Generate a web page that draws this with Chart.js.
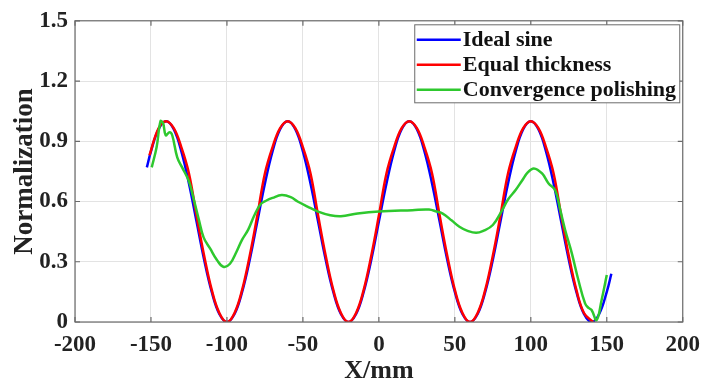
<!DOCTYPE html>
<html>
<head>
<meta charset="utf-8">
<script src="https://cdn.jsdelivr.net/npm/chart.js@4"></script>
<style>
    html, body { margin: 0; padding: 0; background: #fff; }
    #wrap { width: 709px; height: 387px; }
</style>
</head>
<body>
<div id="wrap"><canvas id="profileChart" width="709" height="387"></canvas></div>
<script>
// Ideal sine
const sineX = [-152.7, -150, -145, -140, -135, -130, -125, -120, -115, -110, -105,
    -100, -95, -90, -85, -80, -75, -70, -65,
    -60, -55, -50, -45, -40, -35, -30, -25,
    -20, -15, -10, -5, 0, 5, 10, 15,
    20, 25, 30, 35, 40, 45, 50, 55,
    60, 65, 70, 75, 80, 85, 90, 95,
    100, 105, 110, 115, 120, 125, 130, 135,
    140, 145, 150, 153];
const sineY = [0.77, 0.85, 0.96, 1.00, 0.96, 0.85, 0.69, 0.50, 0.31, 0.15, 0.04,
    0.00, 0.04, 0.15, 0.31, 0.50, 0.69, 0.85, 0.96,
    1.00, 0.96, 0.85, 0.69, 0.50, 0.31, 0.15, 0.04,
    0.00, 0.04, 0.15, 0.31, 0.50, 0.69, 0.85, 0.96,
    1.00, 0.96, 0.85, 0.69, 0.50, 0.31, 0.15, 0.04,
    0.00, 0.04, 0.15, 0.31, 0.50, 0.69, 0.85, 0.96,
    1.00, 0.96, 0.85, 0.69, 0.50, 0.31, 0.15, 0.04,
    0.00, 0.04, 0.15, 0.24];

// Equal thickness
const equalX = [-151, -145, -140, -135, -130, -125, -120, -115, -110, -105,
    -100, -95, -90, -85, -80, -75, -70, -65,
    -60, -55, -50, -45, -40, -35, -30, -25,
    -20, -15, -10, -5, 0, 5, 10, 15,
    20, 25, 30, 35, 40, 45, 50, 55,
    60, 65, 70, 75, 80, 85, 90, 95,
    100, 105, 110, 115, 120, 125, 130, 135,
    141];
const equalY = [0.83, 0.965, 1.00, 0.965, 0.87, 0.74, 0.53, 0.33, 0.16, 0.045,
    0.00, 0.045, 0.16, 0.33, 0.53, 0.74, 0.87, 0.965,
    1.00, 0.965, 0.87, 0.74, 0.53, 0.33, 0.16, 0.045,
    0.00, 0.045, 0.16, 0.33, 0.53, 0.74, 0.87, 0.965,
    1.00, 0.965, 0.87, 0.74, 0.53, 0.33, 0.16, 0.045,
    0.00, 0.045, 0.16, 0.33, 0.53, 0.74, 0.87, 0.965,
    1.00, 0.965, 0.87, 0.74, 0.53, 0.33, 0.16, 0.045,
    0.00];

// Convergence polishing
const convX = [-149.5, -146.3, -143.7, -142, -140.3, -137.7, -136, -132.7, -129.5, -125,
    -121.8, -118.5, -115.3, -111, -106.7, -102.4, -98, -93.7, -90, -86,
    -82, -78, -74, -70, -64, -58, -53.5, -47, -40, -32, -25,
    -14, 0, 22, 33, 38, 42, 48, 53, 58, 64,
    69, 75, 81, 85, 90, 94.4, 98, 102, 107.4, 111.7,
    116, 119.4, 122.6, 127, 131.3, 135.7, 138, 140, 143.3, 146.6,
    150];
const convY = [0.77, 0.87, 1.00, 0.99, 0.93, 0.945, 0.93, 0.82, 0.77, 0.70,
    0.61, 0.51, 0.42, 0.365, 0.31, 0.275, 0.29, 0.35, 0.41, 0.46,
    0.53, 0.585, 0.605, 0.618, 0.632, 0.622, 0.60, 0.575, 0.55, 0.532, 0.527,
    0.54, 0.55, 0.557, 0.56, 0.55, 0.54, 0.505, 0.474, 0.455, 0.444,
    0.455, 0.483, 0.555, 0.61, 0.657, 0.706, 0.745, 0.765, 0.74, 0.69,
    0.657, 0.557, 0.458, 0.342, 0.209, 0.093, 0.07, 0.06, 0.01, 0.11,
    0.234];

const seriesNames = ['Ideal sine', 'Equal thickness', 'Convergence polishing'];

function toPoints(xs, ys) {
    return xs.map((x, i) => ({ x: x, y: ys[i] }));
}

const serif = '"Liberation Serif", "Times New Roman", serif';

// frame, inward ticks and boxed legend like the original figure
const frameAndLegend = {
    id: 'frameAndLegend',
    afterDraw(chart) {
        const ctx = chart.ctx;
        const a = chart.chartArea;
        const xs = chart.scales.x;
        const ys = chart.scales.y;
        ctx.save();
        ctx.strokeStyle = '#6b6b6b';
        ctx.lineWidth = 1.2;
        ctx.strokeRect(a.left, a.top, a.right - a.left, a.bottom - a.top);
        ctx.beginPath();
        xs.ticks.forEach(t => {
            const px = xs.getPixelForValue(t.value);
            ctx.moveTo(px, a.bottom); ctx.lineTo(px, a.bottom - 5);
            ctx.moveTo(px, a.top); ctx.lineTo(px, a.top + 5);
        });
        ys.ticks.forEach(t => {
            const py = ys.getPixelForValue(t.value);
            ctx.moveTo(a.left, py); ctx.lineTo(a.left + 5, py);
            ctx.moveTo(a.right, py); ctx.lineTo(a.right - 5, py);
        });
        ctx.stroke();

        // legend
        const bx = a.right - 268, by = a.top + 4, bw = 265, bh = 78;
        ctx.fillStyle = '#fff';
        ctx.fillRect(bx, by, bw, bh);
        ctx.strokeStyle = '#6b6b6b';
        ctx.lineWidth = 1;
        ctx.strokeRect(bx, by, bw, bh);
        ctx.font = 'bold 22px ' + serif;
        ctx.textBaseline = 'middle';
        ctx.textAlign = 'left';
        chart.data.datasets.forEach((ds, i) => {
            const ry = by + 15 + i * 25;
            ctx.strokeStyle = ds.borderColor;
            ctx.lineWidth = 2.5;
            ctx.beginPath();
            ctx.moveTo(bx + 2, ry);
            ctx.lineTo(bx + 46, ry);
            ctx.stroke();
            ctx.fillStyle = '#111';
            ctx.fillText(ds.label, bx + 48, ry + 1);
        });
        ctx.restore();
    }
};

new Chart(document.getElementById('profileChart'), {
    type: 'line',
    data: {
        datasets: [{
            label: seriesNames[0],
            data: toPoints(sineX, sineY),
            borderColor: '#0000ff',
            borderWidth: 2.5,
            order: 3
        }, {
            label: seriesNames[1],
            data: toPoints(equalX, equalY),
            borderColor: '#ff0000',
            borderWidth: 2.5,
            order: 2
        }, {
            label: seriesNames[2],
            data: toPoints(convX, convY),
            borderColor: '#2ec82e',
            borderWidth: 2.5,
            order: 1
        }]
    },
    options: {
        responsive: false,
        animation: false,
        elements: {
            point: { radius: 0 },
            line: { tension: 0.4, fill: false }
        },
        layout: { padding: { top: 20, right: 21, left: 0, bottom: 0 } },
        plugins: {
            legend: { display: false },
            tooltip: { enabled: false }
        },
        scales: {
            x: {
                type: 'linear',
                min: -200,
                max: 200,
                afterFit: s => { s.height = 65; },
                ticks: {
                    stepSize: 50,
                    padding: 9,
                    color: '#222',
                    font: { family: serif, size: 23, weight: 'bold' }
                },
                grid: { color: '#e3e3e3', drawTicks: false },
                border: { display: false },
                title: {
                    display: true,
                    text: 'X/mm',
                    color: '#222',
                    padding: { top: 0, bottom: 0 },
                    font: { family: serif, size: 26, weight: 'bold' }
                }
            },
            y: {
                min: 0,
                max: 1.5,
                afterFit: s => { s.width = 75; },
                ticks: {
                    stepSize: 0.3,
                    padding: 7,
                    color: '#222',
                    font: { family: serif, size: 23, weight: 'bold' },
                    callback: v => (Math.abs(v) < 1e-9 ? '0' : v.toFixed(1))
                },
                grid: { color: '#e3e3e3', drawTicks: false },
                border: { display: false },
                title: {
                    display: true,
                    text: 'Normalization',
                    color: '#222',
                    padding: { top: 9, bottom: 0 },
                    font: { family: serif, size: 27, weight: 'bold' }
                }
            }
        }
    },
    plugins: [frameAndLegend]
});
</script>
</body>
</html>
